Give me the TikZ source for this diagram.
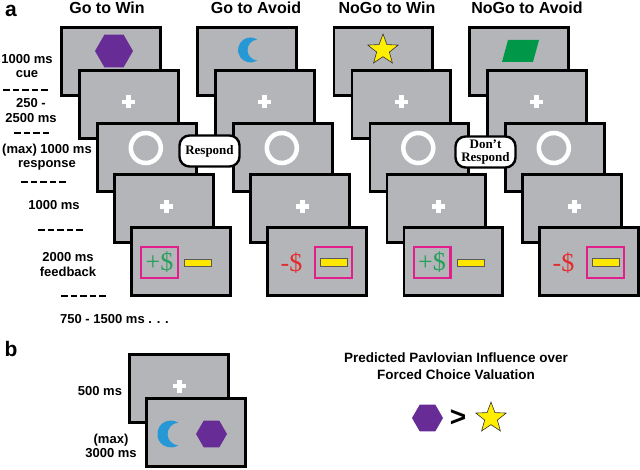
\documentclass[tikz,border=0pt]{standalone}
\usepackage{fontspec}
\setmainfont{Liberation Sans}
\newfontfamily\timesfont{Liberation Serif}
\usepackage{xcolor}
\usetikzlibrary{shapes.geometric,positioning}

\definecolor{screengray}{RGB}{180,181,185}
\definecolor{cuepurple}{RGB}{104,44,150}
\definecolor{cueblue}{RGB}{38,152,214}
\definecolor{cuegreen}{RGB}{0,152,72}
\definecolor{staryellow}{RGB}{255,238,0}
\definecolor{wingreen}{RGB}{40,160,90}
\definecolor{losered}{RGB}{226,44,44}
\definecolor{boxpink}{RGB}{226,30,140}
\definecolor{baryellow}{RGB}{255,230,0}

\begin{document}
\begin{tikzpicture}[x=1pt, y=-1pt,
  screen/.style={draw=black, line width=2.8pt, fill=screengray, minimum width=98.8pt,
    minimum height=68.2pt, inner sep=0pt, anchor=north west},
  lbl/.style={font=\bfseries\fontsize{13}{14.5}\selectfont, align=center, inner sep=0pt},
  coltitle/.style={font=\bfseries\fontsize{16}{18}\selectfont, inner sep=0pt},
  dashsep/.style={line width=2.8pt, dash pattern=on 6.8pt off 2.7pt},
  ring/.style={draw=white, line width=4.5pt},
  hexcue/.style={regular polygon, regular polygon sides=6, fill=cuepurple, minimum size=38pt, inner sep=0pt},
  starcue/.style={star, star points=5, star point ratio=2.4, fill=staryellow, draw=black!80,
    line width=0.6pt, minimum size=32pt, inner sep=0pt},
  paybox/.style={draw=boxpink, line width=2.4pt, minimum width=36.6pt, minimum height=30.6pt, inner sep=0pt},
  money/.style={font=\timesfont\fontsize{26}{26}\selectfont, inner sep=0pt},
  bar/.style={draw=black!65, line width=0.8pt, fill=baryellow, minimum width=27pt, minimum height=7.5pt, inner sep=0pt},
  bubble/.style={draw=black, line width=2.4pt, fill=white, rounded corners=10pt,
    font=\timesfont\bfseries\fontsize{13}{13}\selectfont, align=center, minimum width=60pt,
    minimum height=31pt, inner sep=1pt},
  pics/whiteplus/.style={code={
    \fill[white] (-6.5,-2.4) rectangle (6.5,2.4);
    \fill[white] (-2.4,-6.5) rectangle (2.4,6.5);}},
  pics/moon/.style={code={
    \fill[cueblue] (56.9:12.5) arc[start angle=56.9, end angle=303.1, radius=12.5]
      arc[start angle=266.3, end angle=93.7, radius=10.5] -- cycle;}}
]
  \useasboundingbox (0,0) rectangle (640,470);

  % panel a
  \node[font=\bfseries\fontsize{21}{21}\selectfont, inner sep=0pt] (lbla) at (11,11) {a};
  \node[coltitle] (t1) at (107,8) {Go to Win};
  \node[coltitle] (t2) at (256,8) {Go to Avoid};
  \node[coltitle] (t3) at (387,8) {NoGo to Win};
  \node[coltitle] (t4) at (527,8) {NoGo to Avoid};

  \foreach \c/\colx in {1/60,2/196,3/332.5,4/468}{
    \node[screen] (cue\c) at (\colx,26) {};
    \node[screen] (fix\c) at (\colx+18,69) {};
    \node[screen] (resp\c) at (\colx+36,122) {};
    \node[screen] (iti\c) at (\colx+53,173) {};
    \node[screen] (fb\c) at (\colx+70,226) {};
    \pic at ([shift={(0,-2.5)}]fix\c.center) {whiteplus};
    \draw[ring] ([shift={(-1,-9.5)}]resp\c.center) circle (15);
    \pic at ([shift={(2.5,-2)}]iti\c.center) {whiteplus};
  }

  \node[hexcue] (hex1) at (114,51) {};
  \pic at (250.5,50) {moon};
  \node[starcue] (star3) at (383,50) {};
  \fill[cuegreen] (502,62) -- (508,40) -- (539,40) -- (533,62) -- cycle;

  \foreach \c in {1,3}{
    \node[paybox, money, text=wingreen] (box\c) at ([shift={(-21.3,1)}]fb\c.center) {+\$};
    \node[bar] (bar\c) at ([shift={(17.2,1.5)}]fb\c.center) {};
  }
  \foreach \c in {2,4}{
    \node[money, text=losered] (lose\c) at ([shift={(-25.3,1.5)}]fb\c.center) {-\$};
    \node[paybox] (box\c) at ([shift={(16.7,1)}]fb\c.center) {};
    \node[bar] (bar\c) at (box\c) {};
  }

  \node[bubble] (go) at (209.5,151) {Respond};
  \node[bubble] (nogo) at (485.5,152) {Don’t\\Respond};

  \node[lbl] (l1) at (27,66) {1000 ms\\cue};
  \draw[dashsep] (3,90) -- (47.8,90);
  \node[lbl] (l2) at (31,110.5) {250 -\\2500 ms};
  \draw[dashsep] (14,133) -- (49.3,133);
  \node[lbl] (l3) at (47,157) {(max) 1000 ms\\response};
  \draw[dashsep] (21,182) -- (65.8,182);
  \node[lbl] (l4) at (54,205) {1000 ms};
  \draw[dashsep] (38,230) -- (82.8,230);
  \node[lbl] (l5) at (68,264.5) {2000 ms\\feedback};
  \draw[dashsep] (61,296) -- (105.8,296);
  \node[lbl, anchor=west] (l6) at (60,319) {750 - 1500 ms . . .};

  % panel b
  \node[font=\bfseries\fontsize{21}{21}\selectfont, inner sep=0pt] (lblb) at (11,349) {b};
  \node[screen] (bfix) at (128,353) {};
  \node[screen] (bchoice) at (145,397) {};
  \pic at ([shift={(1,-2.5)}]bfix.center) {whiteplus};
  \pic[scale=1.08] at ([shift={(-25,1.5)}]bchoice.center) {moon};
  \node[hexcue, minimum size=31pt] (hexb) at ([shift={(15.7,1.5)}]bchoice.center) {};
  \node[lbl] (l7) at (100,391) {500 ms};
  \node[lbl] (l8) at (111,446) {(max)\\3000 ms};

  \node[lbl, font=\bfseries\fontsize{13.5}{17}\selectfont] (pred) at (456,366)
    {Predicted Pavlovian Influence over\\Forced Choice Valuation};
  \node[hexcue, minimum size=31pt] (hexc) at (427.5,418) {};
  \node[font=\bfseries\fontsize{28}{28}\selectfont, inner sep=0pt] (gt) at (458,418) {>};
  \node[starcue] (starc) at (491,418) {};
\end{tikzpicture}
\end{document}
